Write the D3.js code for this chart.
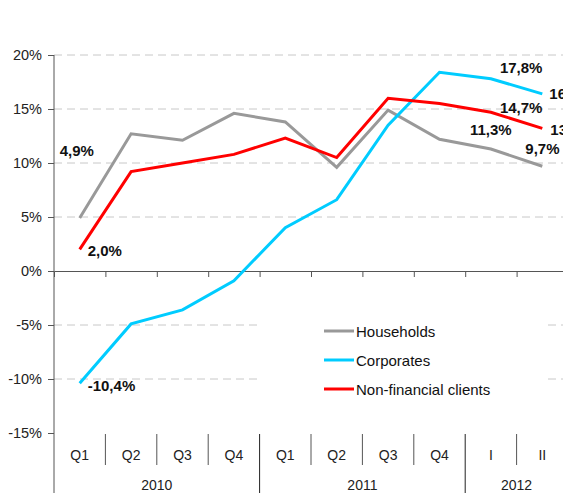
<!DOCTYPE html>
<html><head><meta charset="utf-8">
<script src="https://cdn.jsdelivr.net/npm/d3@7"></script>
<style>body{margin:0;background:#fff}svg{display:block}text{font-family:"Liberation Sans",Arial,sans-serif}</style>
</head><body>
<script>
const categories = ["Q1","Q2","Q3","Q4","Q1","Q2","Q3","Q4","I","II"];
const years = [{label:"2010", from:0, to:4},{label:"2011", from:4, to:8},{label:"2012", from:8, to:10}];
const households = [4.9,12.7,12.1,14.6,13.8,9.6,14.9,12.2,11.3,9.7];
const corporates = [-10.4,-4.9,-3.6,-0.9,4.0,6.6,13.5,18.4,17.8,16.4];
const nonFinancial = [2.0,9.2,10.0,10.8,12.3,10.5,16.0,15.5,14.7,13.2];
const yTicks = [20,15,10,5,0,-5,-10,-15];
const seriesNames = ["Households","Corporates","Non-financial clients"];
const colors = ["#999999","#00CCFF","#FF0000"];
const labels = [
  {s:0,i:0,text:"4,9%",dx:-20,dy:-62.5},
  {s:2,i:0,text:"2,0%",dx:8,dy:7},
  {s:1,i:0,text:"-10,4%",dx:8,dy:8},
  {s:1,i:8,text:"17,8%",dx:9,dy:-5.7},
  {s:1,i:9,text:"16,4%",dx:7,dy:5.4},
  {s:2,i:8,text:"14,7%",dx:9,dy:0.3},
  {s:2,i:9,text:"13,2%",dx:8,dy:7},
  {s:0,i:8,text:"11,3%",dx:-21,dy:-13.5},
  {s:0,i:9,text:"9,7%",dx:-17,dy:-12.7}
];
const data = [households, corporates, nonFinancial];

const W=563,H=493;
const svg=d3.select("body").append("svg").attr("width",W).attr("height",H);
const x0=54, bw=51.4;
const x=d3.scaleBand().domain(d3.range(categories.length)).range([x0,x0+bw*categories.length]);
const y=d3.scaleLinear().domain([-15,20]).range([433,55]);
const cx=i=>x(i)+x.bandwidth()/2;

// gridlines
svg.append("g").selectAll("line").data(yTicks.filter(d=>d!==0 && d!==-15)).join("line")
  .attr("x1",x0).attr("x2",x0+bw*10).attr("y1",d=>y(d)).attr("y2",d=>y(d))
  .attr("stroke","#c8c8c8").attr("stroke-width",1).attr("stroke-dasharray","8,5");
// legend background
svg.append("rect").attr("x",262).attr("y",300).attr("width",286).attr("height",105).attr("fill","#fff");

// y axis
const yAxis=d3.axisLeft(y).tickValues(yTicks).tickSize(6).tickFormat(d=>d+"%");
const ga=svg.append("g").attr("transform",`translate(${x0},0)`).call(yAxis);
ga.select(".domain").remove();
ga.selectAll(".tick line").attr("stroke","#555");
ga.selectAll(".tick text").attr("font-size",14.5).attr("fill","#222").attr("x",-12);
svg.append("line").attr("x1",x0).attr("x2",x0).attr("y1",55).attr("y2",H).attr("stroke","#555");

// zero axis with ticks
const xAxis=d3.axisBottom(d3.scaleLinear().domain([0,10]).range([x0,x0+bw*10])).tickValues(d3.range(1,11)).tickSize(6).tickFormat("");
const gx=svg.append("g").attr("transform",`translate(0,${y(0)})`).call(xAxis);
gx.select(".domain").attr("stroke","#555");
gx.selectAll(".tick line").attr("stroke","#555");

// category separators and labels
const yearBounds=new Set(years.map(d=>d.from));
svg.append("g").selectAll("line").data(d3.range(1,categories.length)).join("line")
  .attr("x1",i=>x(i)).attr("x2",i=>x(i)).attr("y1",434).attr("y2",i=>yearBounds.has(i)?H:465)
  .attr("stroke",i=>yearBounds.has(i)?"#222":"#555").attr("stroke-width",1);
svg.append("g").selectAll("text").data(categories).join("text")
  .attr("x",(d,i)=>cx(i)).attr("y",460).attr("text-anchor","middle").attr("font-size",14).attr("fill","#222").text(d=>d);
svg.append("g").selectAll("text").data(years).join("text")
  .attr("x",d=>(x(d.from)+x0+bw*d.to)/2).attr("y",490).attr("text-anchor","middle").attr("font-size",14).attr("fill","#222").text(d=>d.label);

// lines
const line=d3.line().x((d,i)=>cx(i)).y(d=>y(d));
svg.append("g").selectAll("path").data(data).join("path")
  .attr("d",d=>line(d)).attr("fill","none").attr("stroke",(d,i)=>colors[i]).attr("stroke-width",3).attr("stroke-linejoin","miter");

// data labels
svg.append("g").selectAll("text").data(labels).join("text")
  .attr("x",d=>cx(d.i)+d.dx).attr("y",d=>y(data[d.s][d.i])+d.dy)
  .attr("font-size",15).attr("font-weight","bold").attr("fill","#111").text(d=>d.text);

// legend
const lg=svg.append("g").selectAll("g").data(seriesNames).join("g")
  .attr("transform",(d,i)=>`translate(324,${331+i*29})`);
lg.append("line").attr("x1",0).attr("x2",30).attr("stroke",(d,i)=>colors[i]).attr("stroke-width",3);
lg.append("text").attr("x",32).attr("y",5.5).attr("font-size",15).attr("fill","#111").text(d=>d);
</script>
</body></html>
